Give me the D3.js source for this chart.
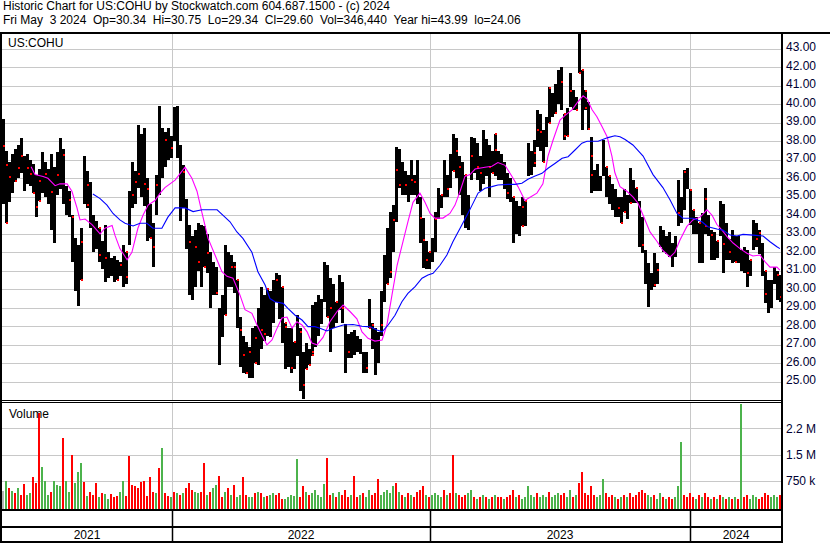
<!DOCTYPE html>
<html><head><meta charset="utf-8">
<script src="https://cdn.jsdelivr.net/npm/d3@7"></script>
<style>
body{margin:0;background:#fff}
svg{display:block}
text{font-family:"Liberation Sans",Arial,sans-serif;font-size:12px}
</style>
</head><body>
<svg id="chart" width="830" height="543"></svg>
<script>
// ---------------- DATA ----------------
const titleLine = "Historic Chart for US:COHU by Stockwatch.com 604.687.1500 - (c) 2024";
const infoLine = "Fri May  3 2024  Op=30.34  Hi=30.75  Lo=29.34  Cl=29.60  Vol=346,440  Year hi=43.99  lo=24.06";
const symbolLabel = "US:COHU";
const volumeLabel = "Volume";
const years = ["2021", "2022", "2023", "2024"];
// year boundaries expressed in bar units (each bar = ~3 sessions)
const yearBounds = [0, 56.67, 142.67, 229.33, 260];
const priceTicks = [25, 26, 27, 28, 29, 30, 31, 32, 33, 34, 35, 36, 37, 38, 39, 40, 41, 42, 43];
const volTicks = [750000, 1500000, 2250000];
const volTickLabels = ["750 k", "1.5 M", "2.2 M"];

const barHigh = [39.2,37.5,36.9,37.3,37.6,37.8,38.2,37.2,37.3,37.0,
36.8,36.2,36.5,37.4,36.9,36.5,37.3,36.6,37.4,38.2,
37.6,35.6,35.3,34.0,32.8,32.4,33.3,37.2,36.4,35.8,
34.0,33.7,33.3,32.6,33.5,32.0,31.7,31.8,31.6,31.5,
32.4,32.0,35.3,36.9,36.4,38.9,38.4,38.7,36.0,34.6,
33.6,36.2,39.9,38.7,38.5,38.7,38.3,39.85,39.9,37.8,
36.7,34.9,33.5,32.9,33.2,33.6,33.5,33.4,33.0,32.0,
31.5,31.2,29.0,29.7,32.4,32.0,31.85,31.5,30.5,28.5,
27.5,27.15,26.9,27.9,28.0,29.0,30.1,29.7,30.0,29.9,
30.5,30.9,30.8,30.1,28.2,27.9,27.9,27.15,28.6,27.9,
26.6,27.1,26.8,29.15,29.3,29.7,29.5,31.5,31.3,30.6,
30.3,29.3,30.75,30.4,28.1,27.6,27.7,27.8,27.5,27.3,
26.6,26.6,29.5,28.2,27.9,27.7,29.9,31.85,33.3,34.2,
34.55,37.7,37.6,36.9,36.4,36.2,37.0,36.2,37.0,35.0,
33.85,32.6,32.0,32.8,34.2,35.5,35.1,37.0,36.2,37.3,
38.4,38.2,37.2,36.9,36.2,35.1,38.25,38.2,37.9,37.2,
38.6,38.1,37.8,37.5,38.4,37.5,37.3,36.9,36.3,36.0,
35.0,34.8,34.5,35.0,34.8,37.9,37.5,38.07,39.7,39.5,
38.6,39.3,40.95,40.6,41.1,41.85,42.0,39.5,39.8,41.7,
40.8,40.4,43.99,41.85,40.8,40.1,38.25,36.45,36.8,36.1,
38.07,36.6,36.1,35.7,35.4,35.0,35.0,35.4,35.1,36.55,
35.9,35.5,34.8,33.9,32.1,31.4,30.9,31.96,31.4,33.4,
33.2,32.9,33.1,32.5,32.9,35.9,35.0,36.45,36.55,35.4,
34.3,33.9,33.6,34.1,35.5,34.0,33.2,33.1,32.6,34.8,
34.6,33.6,32.7,33.2,32.9,32.9,32.1,32.3,32.1,31.6,
33.75,33.6,33.2,32.5,31.0,30.5,30.5,31.2,31.0,30.75];

const barLow = [34.6,33.6,34.7,35.2,35.8,36.0,36.3,35.3,35.7,35.6,
35.2,33.9,34.8,35.2,35.0,34.6,33.2,32.5,35.1,35.4,
34.6,34.0,33.9,31.5,29.9,29.1,30.5,34.6,34.4,33.3,
32.0,32.2,31.5,31.1,30.4,30.6,30.7,30.4,30.5,30.7,
30.1,30.3,32.4,34.4,34.6,35.5,35.0,34.5,32.6,32.8,
31.2,34.0,35.1,36.0,36.6,37.0,37.1,38.0,37.1,33.7,
34.4,32.2,29.7,29.4,30.1,31.0,30.1,31.2,30.9,29.0,
29.7,29.7,25.9,27.4,28.6,30.1,30.1,29.8,27.9,25.8,
25.5,25.4,25.2,25.2,26.0,25.9,26.8,27.2,27.5,27.4,
28.2,29.3,28.4,27.1,25.7,25.8,25.5,25.7,26.4,24.5,
24.06,25.7,25.9,26.4,26.9,27.5,28.1,29.3,28.5,26.6,
27.9,28.2,28.9,28.2,25.5,26.3,26.3,26.45,26.6,26.5,
25.5,25.5,27.9,26.8,25.35,26.0,27.5,29.3,30.3,30.6,
32.0,33.65,35.5,35.1,35.1,34.7,35.1,35.1,34.6,32.5,
31.15,31.1,31.1,31.5,32.0,33.8,34.4,35.0,35.0,35.5,
36.4,36.0,35.1,34.0,33.3,33.2,35.9,36.3,35.9,35.3,
35.7,36.1,35.0,36.3,36.1,35.9,35.9,35.4,34.9,34.7,
32.5,33.0,32.9,33.4,33.4,36.1,36.2,36.6,37.7,37.5,
36.9,37.7,39.0,39.3,39.5,40.0,39.7,38.07,38.3,39.87,
39.7,39.7,41.7,38.6,39.7,38.6,35.2,35.3,35.3,35.3,
36.1,35.0,34.6,34.3,33.9,33.9,33.57,34.2,33.8,34.65,
34.65,34.65,32.3,31.96,30.3,29.06,29.97,30.1,30.3,32.3,
32.0,31.9,31.75,31.2,31.75,33.4,33.6,34.3,35.4,33.5,
33.0,33.0,31.4,31.4,33.0,32.9,31.6,31.6,31.7,32.9,
30.9,31.6,31.6,31.4,31.5,31.4,31.0,30.9,30.1,30.7,
32.1,32.3,31.9,30.7,29.25,28.7,29.0,30.3,29.4,29.34];

// red close markers: [bar position, price]
const closeMarks = [[0.4,37.76],[1.3,36.72],[1.6,33.6],[2.9,36.09],[4,35.85],[5.4,36.57],[6.9,37.2],[8.2,36.57],[9.1,36.23],[10.4,34.0],
[11.3,34.43],[12.4,34.7],[12.9,35.85],[14,36.23],[16.6,35.24],[18.2,36.18],[20.1,37.26],[22.1,34.83],[23.2,33.92],[26.6,32.57],
[26,30.41],[28.4,35.64],[28,34.56],[32.1,33.42],[32.7,31.85],[34.9,31.68],[38,30.05],[39.9,31.31],[41.3,30.68],[41.8,33.03],
[43.2,35.1],[44.3,35.82],[45.1,36.23],[47.8,35.68],[48,35.4],[49.6,32.57],[50.7,32.3],[51.6,35.64],
[54.9,38.07],[56,37.62],[60.4,36.36],[62.4,32.57],[64.3,32.3],[65.7,31.49],[67.3,31.04],[68.8,31.95],[71.6,29.78],[74.3,28.57],
[74.9,27.57],[76.6,31.22],[77.7,31.22],[78.6,32.57],[79,27.8],[80.4,26.45],[81.6,25.46],[82.3,26.63],[84.1,25.55],[84.3,27.35],
[86,27.8],[87.7,27.57],[88.8,30.05],[91.2,30.5],[93,30.68],[94.1,29.51],[94.9,27.98],[96.6,25.73],[97.7,27.71],[99.3,27.71],
[100.4,24.84],[101,24.65],[102.1,25.73],[103.2,26.63],
[103.6,26.45],[108.8,26.99],[109.1,28.97],[111,29.69],[113.8,28.97],[115.1,26.63],[121.6,25.76],[122.1,27.89],[123.8,28.07],[126.2,28.07],
[128.2,29.55],[129.3,30.95],[130.7,33.75],[131.8,36.45],[132.9,35.64],[134.3,35.64],[136,35.91],[137.7,35.82],[139.6,33.84],[140.7,32.66],
[141.6,31.58],[142.9,32.3],[144.7,33.8],[146.6,35.96],[148.2,35.42],[150.4,35.28],[151.3,37.48],[152.9,36.63],[154.3,36.63],
[158.8,36.59],[156.8,37.2],[159.7,36.27],[162.7,36.63],[163.8,36.0],[164.9,37.53],[164.6,38.43],[168.8,35.19],[170.1,35.04],[173.2,34.46],
[173.8,33.3],[174.9,35.73],[177.1,37.35],[177.9,36.81],[178.6,38.61],[179.9,38.52],[180.1,36.9],[182.1,37.08],[182.7,40.86],[184.6,39.55],
[186.3,41.22],[187.4,39.78],[187.7,38.29],[188.6,37.68],[189.9,40.74],[191,39.6],[192.1,39.87],[192.3,41.46],[193,43.3],[193.8,42.79],
[194.6,39.78],[194.9,40.72],[195.7,38.65],[196.3,37.2],[196.8,36.18],[201,37.92],[202.1,36.36],[205.4,34.38],[206.6,33.53],[207.1,34.02],
[209.1,34.02],[211.8,35.46],[213.6,32.39],[217.1,30.23],[218,31.04],[225.1,34.14],[227.7,36.36],[229.3,35.37],[230.2,34.65],[232.4,34.02],
[234,33.42],[234.7,34.86],[236.2,32.93],[238.4,32.81],[240.4,32.45],[242.7,32.03],[244.9,31.41],[248,30.9],[249.6,33.35],[251.6,32.7],
[252.9,33.06],[254,32.3],[254.9,29.75],[259.1,29.6],[258,30.77]];

// short moving average (magenta): [bar position, price]
const maShort = [[9.7,36.63],[11,36.2],[13.7,36.1],[15.3,36.0],[17.7,35.6],[19.3,35.7],[21.7,35.7],[23.3,35.3],[25,34.4],[26,33.75],
[27.7,33.8],[30,33.5],[32.7,33.0],[34.3,33.3],[36.7,33.45],[37.7,32.9],[39.3,32.2],[41.7,31.6],[43.3,32.0],[45.3,33.3],
[47,34.0],[48.7,34.55],[51,34.8],[52.7,35.2],[54.3,35.5],[57.7,35.9],[61,36.6],[63.3,36.0],[65,35.3],[66.7,34.1],
[68.7,32.75],[71,31.85],[73.3,30.95],[75,30.7],[77,30.6],[79.3,29.7],[81,28.9],[83.3,28.7],[85,28.07],[86.7,27.5],
[88.3,27.0],[90,27.26],[91.7,27.9],[93.3,28.45],[95,28.5],[96.7,27.9],[98.3,28.25],[100,28.07],[101.7,27.7],[103.3,27.1],
[105,27.0],[107,27.4],[109.3,28.25],[111.7,28.8],[113.7,29.15],[116,28.8],[118.3,28.4],[120,27.7],[122,27.35],[124.3,27.2],
[126.7,27.26],[128.3,28.07],[130,29.7],[131.7,31.3],[133.7,32.6],[135.3,33.65],[137,34.7],[139.3,35.2],[141,34.7],[142.7,34.1],
[144.3,33.85],[147,33.85],[149.3,34.1],[151,34.55],[152.7,35.3],[154.3,36.1],[156,36.2],[157.7,36.5],[161,36.6],[163.3,36.65],
[165.3,36.85],[167.7,36.7],[170,36.1],[172,35.55],[174.3,34.8],[176.3,35.0],[178.3,35.2],[180.3,35.7],[182,37.2],[183.7,38.07],
[186,39.15],[187.7,39.4],[190,39.7],[192,40.14],[193.7,40.46],[195,40.3],[196.7,39.7],[198.3,39.33],[200,38.8],[201.7,38.25],
[203.3,37.2],[204.3,36.3],[206,35.55],[208.3,35.3],[210.3,35.0],[212,34.65],[213.7,34.0],[216,33.1],[218.3,32.6],[220.3,32.1],
[222.7,31.75],[224.3,32.0],[226,32.66],[228.3,33.4],[230.3,33.75],[232.7,33.9],[235,34.3],[236.7,34.0],[238.3,33.5],[240,33.2],
[241.7,32.85],[243.7,32.5],[246,32.2],[248.3,31.95],[250.3,31.8],[252.7,31.85],[254.3,31.5],[256,31.2],[258.3,31.2],[259.3,31.04]];

// long moving average (blue): [bar position, price]
const maLong = [[30.3,35.15],[32.7,34.9],[35,34.55],[37,34.1],[39.3,33.75],[41,33.57],[43.7,33.42],[46,33.57],[48.3,33.57],[50.3,33.3],
[53.3,33.3],[55.3,33.9],[57.7,34.4],[61,34.4],[63.7,34.2],[66.7,34.3],[71.7,34.3],[73.7,34.0],[76,33.65],[78.3,33.1],
[80.3,32.75],[83.3,32.0],[85.3,30.95],[87.7,30.23],[89.3,29.5],[91,29.33],[93.7,29.24],[95.3,28.97],[97.7,28.6],[100,28.34],
[102,27.98],[104.3,27.98],[106,27.9],[108.3,27.75],[110.3,27.9],[113.7,28.07],[117,28.1],[120,28.0],[122.7,27.97],[125,27.8],
[126.7,27.7],[128.7,28.07],[131,28.6],[133.3,29.33],[135.3,29.78],[137.7,30.14],[140,30.6],[142,30.77],[143.7,30.86],[146,31.3],
[148.3,31.85],[150.3,32.57],[152.7,33.3],[155,34.0],[156.7,34.55],[158.7,35.2],[161,35.46],[163.3,35.55],[165.3,35.64],[168.7,35.67],
[171,35.67],[173.3,35.73],[175.3,35.95],[177.7,36.12],[180,36.27],[182,36.54],[184.3,36.8],[186.7,37.08],[188.7,37.17],[191,37.53],
[193.3,37.9],[195,38.0],[198.7,38.0],[202,38.2],[204.3,38.3],[206,38.25],[207.7,38.1],[210.3,37.8],[213.7,37.2],[217,36.2],
[220.3,35.5],[222.7,34.83],[225,34.1],[227,33.84],[230.3,33.84],[233.3,33.65],[235.3,33.38],[238.3,33.26],[240.3,33.2],[242.7,32.93],
[245,32.88],[247,32.97],[250.3,32.93],[253.7,32.88],[256,32.57],[258.3,32.3],[259.3,32.2]];

// volume per bar (thousands of shares)
const volume = [475,735,560,475,400,560,350,650,350,400,
860,700,2690,1150,740,350,430,735,640,600,
1980,735,430,1500,680,1000,1250,710,320,430,
350,700,300,400,380,240,380,290,330,430,
740,320,1460,640,600,560,720,760,330,860,
430,400,1120,1700,400,320,290,430,400,350,
400,560,700,480,430,400,430,1250,350,430,
560,640,880,290,430,560,350,640,290,350,
860,350,290,290,400,430,400,290,330,350,
400,350,400,240,240,290,350,330,1370,290,
600,450,350,400,500,350,300,650,1400,350,
400,300,450,350,500,300,350,900,300,350,
400,300,500,350,400,800,350,450,500,400,
600,700,450,350,300,400,350,300,450,500,
600,350,300,350,400,350,300,500,350,400,
1500,400,350,300,350,400,500,300,250,300,
350,300,250,300,350,280,300,250,300,350,
500,300,350,250,300,600,350,300,400,300,
350,300,450,300,350,400,350,400,300,500,
300,350,700,1000,400,350,600,350,300,350,
800,400,300,350,300,250,300,350,300,400,
300,350,450,500,400,350,300,350,250,400,
300,250,300,250,300,600,1860,350,300,400,
300,250,350,300,400,300,250,300,250,350,
300,250,300,250,300,250,2930,300,350,250,
350,300,250,300,400,350,300,350,300,346];

// r = down day, g = up day, n = unchanged
const volDir = "ngrgrgrrgg" + "rrrggg" + "rggg" + "rggrgggrgr" + "rrgrggrrrg" +
"grrrrrrrrr" + "rgrgrrgrgr" + "grrrggrrgr" + "ggrrgrgrgg" + "rrggrgrgrg" + "grrrgggggr" +
"rgrgggggrr" + "grgrrrgrrg" + "rggrrrgggg" + "grgrgrgrrr" + "rgrggggrgr" + "rgrrrggrgr" +
"grgrgrrgrr" + "rgrgggggrg" + "ggrgggrrgg" + "rgrrrrrrgg" + "grrrgrgrgr" + "rrrrrggrgg" +
"rgrrgggrrr" + "rgrgrrgrgr" + "grgrgrgrrg" + "ggrrrrgggr";

// ---------------- DRAW ----------------
const svg = d3.select("#chart");
const plotL = 2, plotR = 781, priceTop = 34, priceBot = 400, volTop = 403, volBot = 509;

const x = d3.scaleLinear().domain([0, barHigh.length]).range([2, 782]);
const yP = d3.scaleLinear().domain([25, 43]).range([381.8, 48.8]);
const yV = d3.scaleLinear().domain([0, 2250000]).range([507.3, 428.3]);

svg.append("rect").attr("width", 830).attr("height", 543).attr("fill", "#fff");

const defs = svg.append("defs");
defs.append("clipPath").attr("id", "cp").append("rect")
  .attr("x", plotL).attr("y", priceTop).attr("width", plotR - plotL).attr("height", priceBot - priceTop);
defs.append("clipPath").attr("id", "cv").append("rect")
  .attr("x", plotL).attr("y", volTop).attr("width", plotR - plotL).attr("height", volBot - volTop);

// header (non-breaking spaces keep the double spacing)
const nb = s => s.replace(/ /g, "\u00a0");
svg.append("text").attr("x", 3).attr("y", 10).attr("fill", "#000").text(nb(titleLine));
svg.append("text").attr("x", 3).attr("y", 24).attr("fill", "#000").text(nb(infoLine));

// grid: price
svg.append("g").selectAll("line").data(priceTicks).join("line")
  .attr("x1", plotL).attr("x2", plotR)
  .attr("y1", d => Math.round(yP(d)) + 0.5).attr("y2", d => Math.round(yP(d)) + 0.5)
  .attr("stroke", "#c8c8c8").attr("stroke-width", 1);
// grid: volume
svg.append("g").selectAll("line").data(volTicks).join("line")
  .attr("x1", plotL).attr("x2", plotR)
  .attr("y1", d => Math.round(yV(d)) + 0.5).attr("y2", d => Math.round(yV(d)) + 0.5)
  .attr("stroke", "#c8c8c8").attr("stroke-width", 1);

// year separators
const innerBounds = yearBounds.slice(1, -1);
const sepX = d => Math.round(x(d)) + 0.5;
svg.append("g").selectAll("line").data(innerBounds).join("line")
  .attr("x1", sepX).attr("x2", sepX).attr("y1", priceTop).attr("y2", priceBot)
  .attr("stroke", "#c8c8c8");
svg.append("g").selectAll("line").data(innerBounds).join("line")
  .attr("x1", sepX).attr("x2", sepX).attr("y1", volTop).attr("y2", volBot)
  .attr("stroke", "#c8c8c8");
svg.append("g").selectAll("line").data(innerBounds).join("line")
  .attr("x1", sepX).attr("x2", sepX).attr("y1", volBot).attr("y2", 542)
  .attr("stroke", "#000").attr("stroke-width", 1.5);

// price bars
const bars = barHigh.map((h, i) => ({i, h, l: barLow[i]}));
svg.append("g").attr("clip-path", "url(#cp)").attr("shape-rendering", "crispEdges")
  .selectAll("rect").data(bars).join("rect")
  .attr("x", d => x(d.i)).attr("width", x(1) - x(0))
  .attr("y", d => yP(d.h)).attr("height", d => Math.max(1, yP(d.l) - yP(d.h)))
  .attr("fill", "#000");

// red close markers, kept on their bar
svg.append("g").attr("clip-path", "url(#cp)").attr("shape-rendering", "crispEdges")
  .selectAll("rect").data(closeMarks).join("rect")
  .attr("x", d => Math.round(x(Math.floor(d[0]))) + 1)
  .attr("y", d => {
    const k = Math.min(barHigh.length - 1, Math.floor(d[0]));
    const p = Math.max(barLow[k], Math.min(barHigh[k], d[1]));
    return Math.round(yP(p)) - 1;
  })
  .attr("width", 2).attr("height", 2).attr("fill", "#ff0000");

// moving averages
const line = d3.line().x(d => x(d[0])).y(d => yP(d[1]));
svg.append("path").attr("clip-path", "url(#cp)").attr("d", line(maShort))
  .attr("fill", "none").attr("stroke", "#ff00ff").attr("stroke-width", 1.1);
svg.append("path").attr("clip-path", "url(#cp)").attr("d", line(maLong))
  .attr("fill", "none").attr("stroke", "#0000ff").attr("stroke-width", 1.1);

// volume bars
const volColor = {r: "#ff0000", g: "#4cb34c", n: "#b4b4b4"};
svg.append("g").attr("clip-path", "url(#cv)").attr("shape-rendering", "crispEdges")
  .selectAll("rect").data(volume).join("rect")
  .attr("x", (d, i) => x(i)).attr("width", 2)
  .attr("y", d => yV(d * 1000)).attr("height", d => volBot - yV(d * 1000))
  .attr("fill", (d, i) => volColor[volDir[i]] || "#4cb34c");

// labels inside panels
svg.append("text").attr("x", 8).attr("y", 47).attr("fill", "#000").text(symbolLabel);
svg.append("text").attr("x", 9).attr("y", 418).attr("fill", "#000").text(volumeLabel);

// right axis labels
svg.append("g").selectAll("text").data(priceTicks).join("text")
  .attr("x", 786).attr("y", d => yP(d) + 2.5).attr("fill", "#000033")
  .text(d => d.toFixed(2));
svg.append("g").selectAll("text").data(volTicks).join("text")
  .attr("x", 786).attr("y", d => yV(d) + 4.5).attr("fill", "#000033")
  .text((d, i) => volTickLabels[i]);

// year labels
svg.append("g").selectAll("text").data(years).join("text")
  .attr("x", (d, i) => (x(yearBounds[i]) + x(yearBounds[i + 1])) / 2)
  .attr("y", 539).attr("text-anchor", "middle").attr("fill", "#000").text(d => d);

// frame lines
const frame = svg.append("g").attr("fill", "#000").attr("shape-rendering", "crispEdges");
frame.append("rect").attr("x", 0).attr("y", 32).attr("width", 830).attr("height", 2);
frame.append("rect").attr("x", 0).attr("y", 32).attr("width", 2).attr("height", 511);
frame.append("rect").attr("x", 781).attr("y", 32).attr("width", 2).attr("height", 511);
frame.append("rect").attr("x", 0).attr("y", 400).attr("width", 781).attr("height", 1);
frame.append("rect").attr("x", 0).attr("y", 402).attr("width", 781).attr("height", 1);
frame.append("rect").attr("x", 0).attr("y", 509).attr("width", 781).attr("height", 2);
frame.append("rect").attr("x", 0).attr("y", 526).attr("width", 781).attr("height", 2);
frame.append("rect").attr("x", 0).attr("y", 541).attr("width", 781).attr("height", 2);
</script>
</body></html>
